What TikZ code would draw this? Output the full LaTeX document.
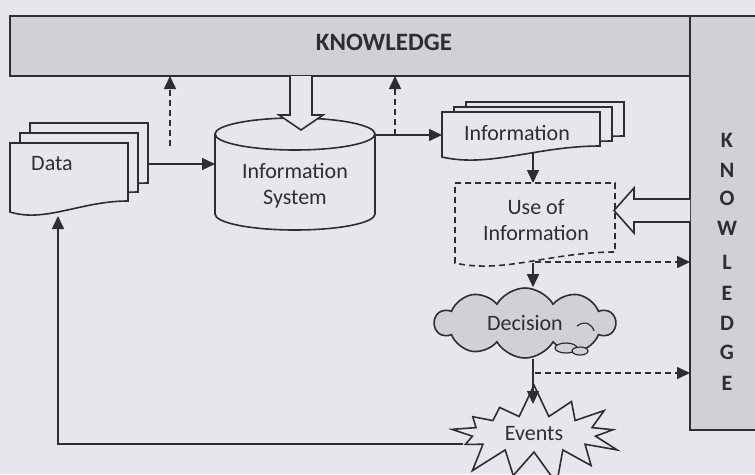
\documentclass[tikz,border=0pt]{standalone}
\usepackage{fontspec}
\setmainfont{Carlito}
\usetikzlibrary{shapes.symbols,arrows.meta,calc}
\definecolor{bgc}{RGB}{230,230,237}
\definecolor{barc}{RGB}{208,208,214}
\definecolor{inkc}{RGB}{45,45,50}
\newcommand\docsh[5]{%
  \path[#1] (#2,#3) -- (#4,#3) -- (#4,#5-11) .. controls ({#2+0.6*(#4-#2)},#5-11) and ({#2+0.3*(#4-#2)},#5+11) .. (#2,#5) -- cycle;}
\begin{document}
\begin{tikzpicture}[x=1pt,y=-1pt,line width=1.6pt,
  frame/.style={draw=none,inner sep=0pt,outer sep=0pt,rectangle},
  lbl/.style={text=inkc,font=\fontsize{22}{26}\selectfont,align=center,inner sep=0pt},
  klbl/.style={text=inkc,font=\bfseries\fontsize{22}{24}\selectfont,inner sep=0pt},
  arr/.style={draw=inkc,-{Triangle[length=13pt,width=12pt]}},
  dsh/.style={dash pattern=on 6pt off 4pt},
  shp/.style={draw=inkc,fill=bgc},
  ]
\useasboundingbox (0,0) rectangle (755,474);
\fill[bgc] (0,0) rectangle (755,474);
\clip (0,0) rectangle (755,474);
% knowledge bars
\node[frame,minimum width=680pt,minimum height=60pt,anchor=north west,draw=inkc,fill=barc] (bar) at (10,16) {};
\node[frame,minimum width=80pt,minimum height=414pt,anchor=north west,draw=inkc,fill=barc] (col) at (690,16) {};
\node[klbl,font=\bfseries\fontsize{25}{26}\selectfont] at (384,42) {KNOWLEDGE};
\foreach \ch/\yy in {K/140,N/170,O/198,W/228,L/262,E/293,D/323,G/352,E/383}
  \node[klbl] at (727,\yy) {\ch};
% frames for connectors
\node[frame,minimum width=138pt,minimum height=94pt] (data) at (79,170) {};
\node[frame,minimum width=160pt,minimum height=112pt] (is) at (295,174) {};
\node[frame,minimum width=182pt,minimum height=55pt] (info) at (533,129.5) {};
\node[frame,minimum width=160pt,minimum height=80pt] (use) at (535,223) {};
% data stack
\docsh{shp}{30}{123}{148}{194}
\docsh{shp}{20}{133}{138}{203}
\docsh{shp}{10}{143}{128}{212}
\node[lbl] at (52,164) {Data};
% cylinder
\path[shp] (215,134) -- (215,214) arc[start angle=180,end angle=0,x radius=80,y radius=16] -- (375,134);
\draw[shp] (295,134) ellipse[x radius=80,y radius=16];
\node[lbl] at (295,186) {Information\\System};
% information stack
\docsh{shp}{466}{102}{624}{147}
\docsh{shp}{454}{107}{612}{152}
\docsh{shp}{442}{112}{600}{157}
\node[lbl] at (517,133) {Information};
% use of information
\docsh{draw=inkc,dsh}{455}{183}{615}{263}
\node[lbl] at (536,220) {Use of\\Information};
% decision cloud
\node[cloud,cloud puffs=10,cloud puff arc=120,aspect=2.5,minimum width=180pt,minimum height=70pt,draw=inkc,fill=barc,lbl] (dec) at (525,323) {Decision};
\draw[draw=inkc,fill=barc,line width=1.2pt] (566,348) ellipse[x radius=11,y radius=5];
\draw[draw=inkc,fill=barc,line width=1.2pt] (580,351) ellipse[x radius=8,y radius=4];
\draw[draw=inkc,line width=1.2pt] (577,326) .. controls (585,320) and (592,324) .. (594,331);
% events
\node[starburst,starburst points=13,starburst point height=34pt,random starburst=7,minimum width=192pt,minimum height=104pt,draw=inkc,fill=bgc,lbl] (ev) at (534,434) {Events};
% hollow arrows
\path[shp] (bar.south -| 290,0) -- (290,115) -- (279,115) -- (301,130) -- (323,115) -- (312,115) -- (bar.south -| 312,0);
\path[shp] (col.west |- 0,199) -- (634,199) -- (634,188) -- (614,210.5) -- (634,233) -- (634,222) -- (col.west |- 0,222);
% connectors
\draw[arr] (data.east |- 0,164) -- (is.west |- 0,164);
\draw[arr,dsh] (170,146) -- (bar.south -| 170,0);
\draw[arr] (is.east |- 0,135) -- (info.west |- 0,135);
\draw[arr,dsh] (395,135) -- (bar.south -| 395,0);
\draw[arr] (533,153) -- (use.north -| 533,0);
\draw[arr,dsh] (535,262) -- (col.west |- 0,262);
\draw[arr] (533,263) -- (dec.north -| 533,0);
\draw[arr] (dec.south -| 533,0) -- (533,404);
\draw[arr,dsh] (535,373) -- (col.west |- 0,373);
\draw[arr] (ev.west |- 0,444) -| (58,216);
\end{tikzpicture}
\end{document}
